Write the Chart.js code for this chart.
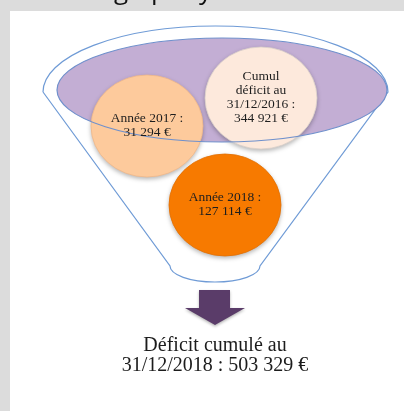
<!DOCTYPE html>
<html>
<head>
<meta charset="utf-8">
<script src="https://cdn.jsdelivr.net/npm/chart.js@4/dist/chart.umd.min.js"></script>
<style>
html,body{margin:0;padding:0;overflow:hidden;background:#dcdcdc;}
canvas{display:block;}
</style>
</head>
<body>
<canvas id="c" width="404" height="411"></canvas>
<script>
// ---- data ----
const categories = ['Cumul déficit au 31/12/2016', 'Année 2017', 'Année 2018'];
const amounts = [344921, 31294, 127114];
const bubbleLines = [
  ['Cumul', 'déficit au', '31/12/2016 :'],
  ['Année 2017 :'],
  ['Année 2018 :']
];
const totalLines = ['Déficit cumulé au', '31/12/2018 :'];

// ---- layout / style (kept apart from the data) ----
const bubbleX = [261, 147, 225];
const bubbleY = [98, 126, 205];
const bubbleR = 53;
const bubbleRX = 56, bubbleRY = 51;
const bubbleFill = ['#fde9dc', '#fdca9c', '#f77a00'];
const bubbleBorder = ['#d9cfc9', '#efb88a', '#e26f00'];

const fmt = n => String(n).replace(/\B(?=(\d{3})+(?!\d))/g, ' ') + ' €';
const total = amounts.reduce((a, b) => a + b, 0);

const bubbleData = amounts.map((v, i) => ({ x: bubbleX[i], y: bubbleY[i], r: bubbleR, v: v }));

// elliptical point styles
const ellipseStyles = bubbleFill.map((f, i) => {
  const cv = document.createElement('canvas');
  cv.width = bubbleRX * 2 + 2; cv.height = bubbleRY * 2 + 2;
  const c = cv.getContext('2d');
  c.fillStyle = f;
  c.strokeStyle = bubbleBorder[i];
  c.lineWidth = 0.8;
  c.beginPath();
  c.ellipse(cv.width / 2, cv.height / 2, bubbleRX, bubbleRY, 0, 0, 2 * Math.PI);
  c.fill();
  c.stroke();
  return cv;
});

const px = (chart, x, y) => [chart.scales.x.getPixelForValue(x), chart.scales.y.getPixelForValue(y)];

const decor = {
  id: 'decor',
  beforeDraw(chart) {
    const ctx = chart.ctx;
    ctx.save();
    ctx.fillStyle = '#dcdcdc';
    ctx.fillRect(0, 0, chart.width, chart.height);
    ctx.fillStyle = '#ffffff';
    ctx.fillRect(10, 11, chart.width - 10, chart.height - 11);
    // title descenders (cut off at top)
    ctx.beginPath();
    ctx.rect(0, 0, chart.width, 11);
    ctx.clip();
    ctx.fillStyle = '#111';
    ctx.font = '26px "Open Sans"';
    ctx.textBaseline = 'alphabetic';
    ctx.fillText('g', 114, -1);
    ctx.fillText('p', 151, -1);
    ctx.fillText('y', 199, -1);
    ctx.restore();
  },
  beforeDatasetsDraw(chart) {
    const ctx = chart.ctx;
    ctx.save();
    // funnel outline
    const [cx, cy] = px(chart, 215.5, 92);
    const rx = 172.5, ry = 66;
    ctx.strokeStyle = '#6f9bd6';
    ctx.lineWidth = 1.2;
    ctx.beginPath();
    ctx.ellipse(cx, cy, rx, ry, 0, Math.PI, 2 * Math.PI);
    const [brx, bry] = px(chart, 260, 266);
    ctx.lineTo(brx, bry);
    const [bcx, bcy] = px(chart, 215, 266);
    ctx.ellipse(bcx, bcy, 45, 16, 0, 0, Math.PI);
    ctx.lineTo(cx - rx, cy);
    ctx.stroke();
    // purple ellipse fill
    const [pcx, pcy] = px(chart, 222, 90);
    ctx.fillStyle = '#c3aed4';
    ctx.beginPath();
    ctx.ellipse(pcx, pcy, 165, 52, 0, 0, 2 * Math.PI);
    ctx.fill();
    // arrow
    ctx.fillStyle = '#5a3c69';
    ctx.shadowColor = 'rgba(0,0,0,0.3)';
    ctx.shadowBlur = 3;
    ctx.shadowOffsetY = 1.5;
    const pts = [[199, 290], [230, 290], [230, 308], [245, 308], [215, 325], [185, 308], [199, 308]];
    ctx.beginPath();
    pts.forEach((p, i) => {
      const [a, b] = px(chart, p[0], p[1]);
      if (i === 0) ctx.moveTo(a, b); else ctx.lineTo(a, b);
    });
    ctx.closePath();
    ctx.fill();
    ctx.restore();
  },
  beforeDatasetDraw(chart) {
    const ctx = chart.ctx;
    ctx.save();
    ctx.shadowColor = 'rgba(0,0,0,0.28)';
    ctx.shadowBlur = 4;
    ctx.shadowOffsetY = 2;
  },
  afterDatasetDraw(chart) {
    chart.ctx.restore();
  },
  afterDatasetsDraw(chart) {
    const ctx = chart.ctx;
    ctx.save();
    // purple ellipse outline over the circles
    const [pcx, pcy] = px(chart, 222, 90);
    ctx.strokeStyle = '#6f90cc';
    ctx.lineWidth = 1.2;
    ctx.beginPath();
    ctx.ellipse(pcx, pcy, 165, 52, 0, 0, 2 * Math.PI);
    ctx.stroke();
    // bubble labels
    const meta = chart.getDatasetMeta(0);
    ctx.fillStyle = '#1e1e1e';
    ctx.font = '13.5px "Liberation Serif"';
    ctx.textAlign = 'center';
    ctx.textBaseline = 'middle';
    meta.data.forEach((el, i) => {
      const lines = bubbleLines[i].concat([fmt(amounts[i])]);
      const lh = 14;
      const y0 = el.y - (lines.length - 1) * lh / 2 - 1;
      lines.forEach((t, k) => ctx.fillText(t, el.x, y0 + k * lh));
    });
    // total text
    ctx.fillStyle = '#1c1c1c';
    ctx.font = '20px "Liberation Serif"';
    const [tx, ty] = px(chart, 215, 346);
    ctx.fillText(totalLines[0], tx, ty);
    ctx.fillText(totalLines[1] + ' ' + fmt(total), tx, ty + 20);
    ctx.restore();
  }
};

new Chart(document.getElementById('c'), {
  type: 'bubble',
  data: {
    labels: categories,
    datasets: [{
      label: 'Déficit',
      data: bubbleData,
      backgroundColor: bubbleFill,
      borderColor: bubbleBorder,
      borderWidth: 0.8,
      pointStyle: ellipseStyles,
      clip: false
    }]
  },
  options: {
    responsive: false,
    animation: false,
    devicePixelRatio: 1,
    layout: { padding: 0, autoPadding: false },
    scales: {
      x: { type: 'linear', min: 0, max: 404, display: false },
      y: { type: 'linear', min: 0, max: 411, reverse: true, display: false }
    },
    plugins: { legend: { display: false }, tooltip: { enabled: false } },
    events: []
  },
  plugins: [decor]
});
</script>
</body>
</html>
